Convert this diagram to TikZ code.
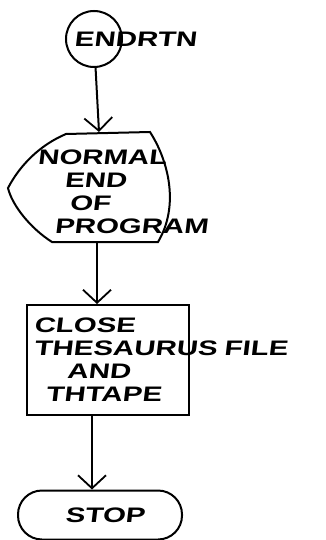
\documentclass[tikz,border=0pt]{standalone}
\usepackage{fontspec}
\usepackage{tikz}
\usetikzlibrary{arrows.meta,positioning}
\newfontfamily\handfont[FakeStretch=1.4,FakeSlant=0.12]{Liberation Sans Bold}

\begin{document}
\begin{tikzpicture}[
				x=1pt, y=-1pt,
				font=\handfont\fontsize{21}{23}\selectfont,
				>={Straight Barb[length=13pt,width=28pt,line width=1.8pt]},
				% Node styles
				connector/.style={
					circle, draw=black, line width=2pt,
					minimum size=56pt, inner sep=0pt
				},
				procbox/.style={
					rectangle, draw=black, line width=2pt,
					minimum width=162pt, minimum height=110pt,
					text width=148pt, align=left, inner sep=5pt
				},
				endbox/.style={
					rectangle, rounded corners=24pt,
					draw=black, line width=2pt,
					minimum width=164pt, minimum height=49pt
				},
				dispshape/.style={draw=black, line width=2pt},
				arr/.style={->, line width=2pt, black}
				]
				\useasboundingbox (0,0) rectangle (326,540);
				
				%% ─── ENTRY CONNECTOR ────────────────────────────────────────────
				\node[connector] (endrtn) at (94,39) {};
				\node[anchor=west, inner sep=0pt] (endrtn-txt) at ([xshift=9pt]endrtn.west) {ENDRTN};
				
				%% ─── DISPLAY: NORMAL END ────────────────────────────────────────
				\draw[dispshape] (66,134) -- (150,132)
				.. controls (168,160) and (180,205) .. (158,242) -- (52,242)
				.. controls (30,228) and (12,205) .. (8,188)
				.. controls (20,165) and (40,145) .. (66,134) -- cycle;
				\coordinate (nrm-top) at (99,132);
				\coordinate (nrm-bot) at (97,242);
				\node[align=left, anchor=north west] (normal) at (34,146)
				{NORMAL\\\hspace*{27pt}END\\\hspace*{32pt}OF\\\hspace*{17pt}PROGRAM};
				
				\draw[arr] (endrtn) -- (nrm-top);
				
				%% ─── PROCESS: CLOSE FILES ───────────────────────────────────────
				\node[procbox] (close) at (108,360)
				{CLOSE\\\makebox[0pt][l]{THESAURUS FILE}\\\hspace*{33pt}AND\\\hspace*{12pt}THTAPE};
				
				\draw[arr] (nrm-bot) -- (nrm-bot |- close.north);
				
				%% ─── TERMINAL ───────────────────────────────────────────────────
				\node[endbox] (stop) at (100,515) {\hspace*{10pt}STOP};
				
				\draw[arr] ([xshift=-16pt]close.south) -- ([xshift=-16pt]close.south |- stop.north);
				
			\end{tikzpicture}
\end{document}
